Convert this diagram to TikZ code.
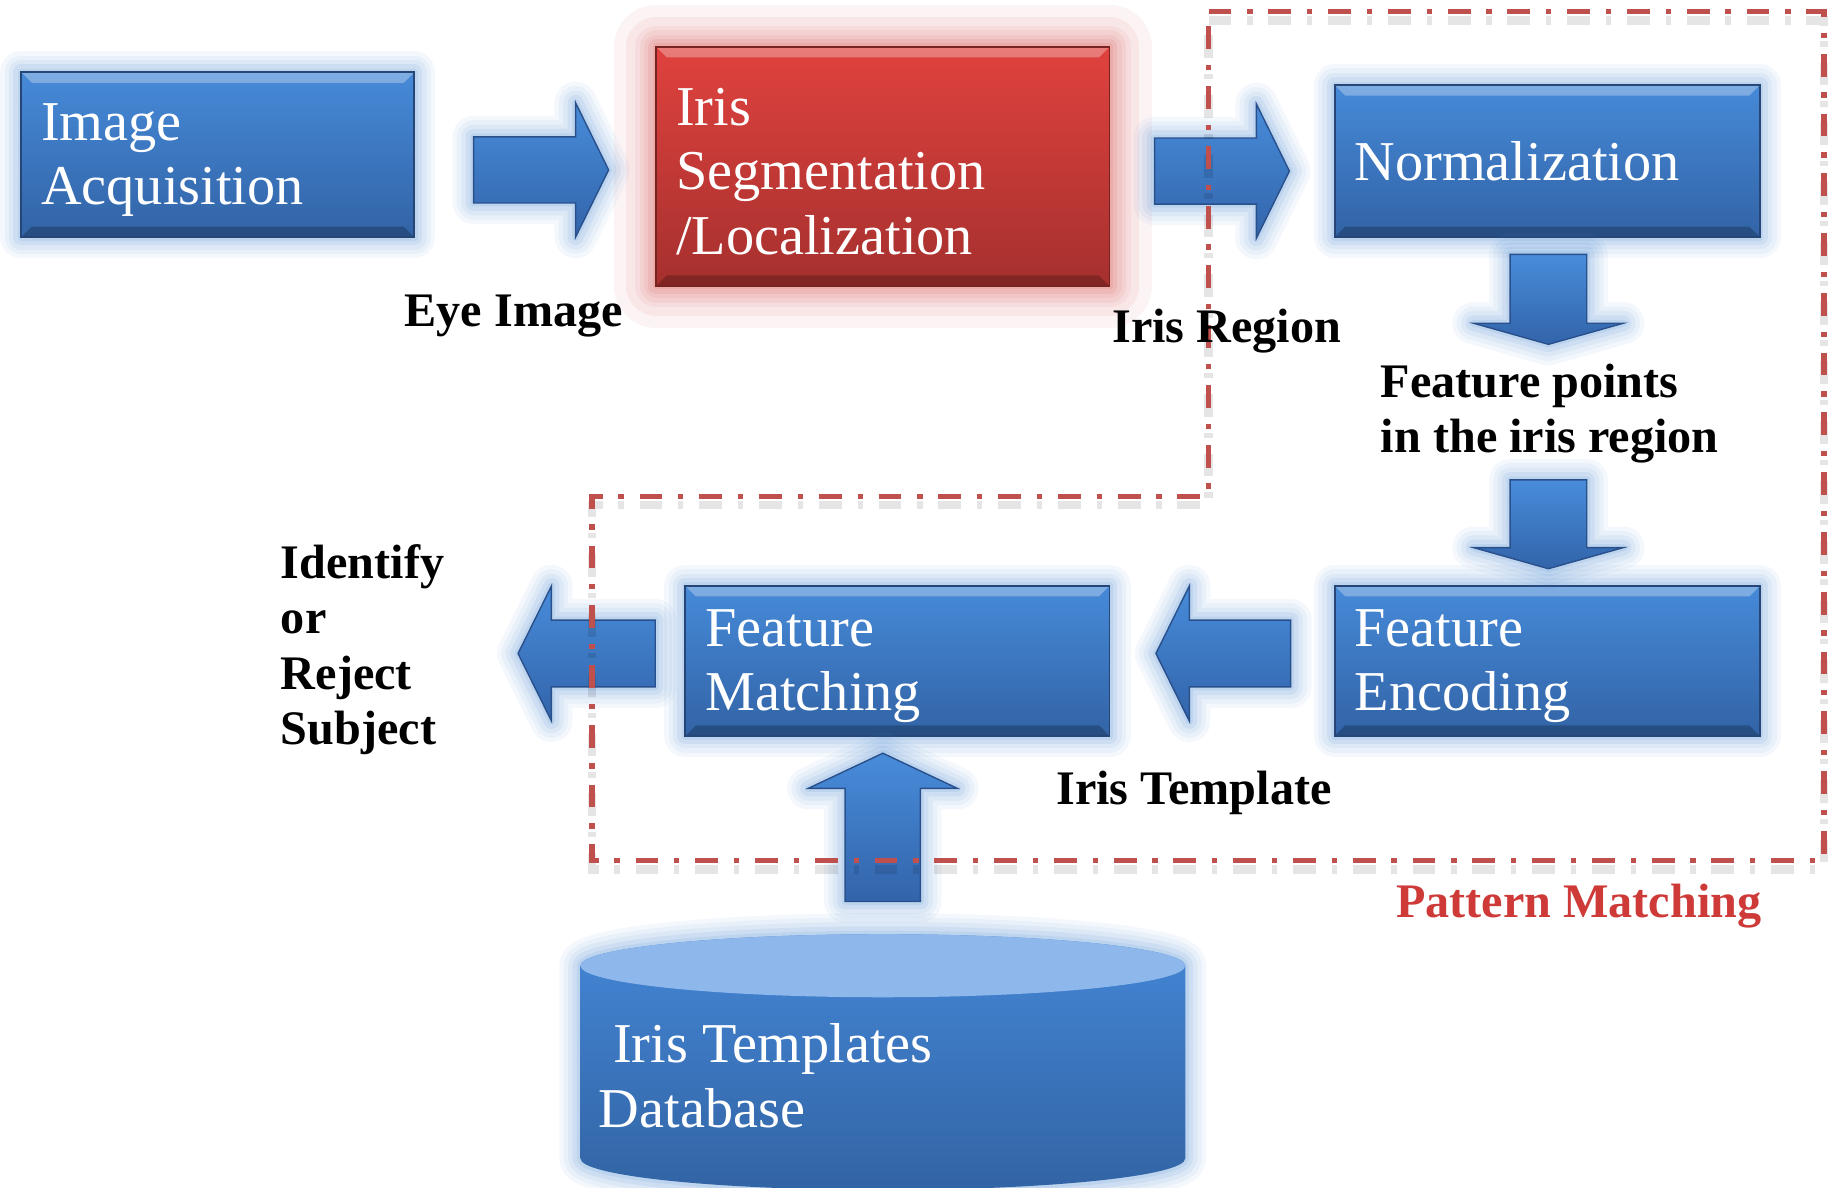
\documentclass[tikz,border=0pt]{standalone}
\usepackage{fontspec}
\setmainfont{Liberation Serif}
\usetikzlibrary{calc}

\definecolor{boxtop}{RGB}{70,138,216}
\definecolor{boxbot}{RGB}{50,99,166}
\definecolor{boxedge}{RGB}{38,70,120}
\definecolor{redtop}{RGB}{224,66,62}
\definecolor{redbot}{RGB}{165,48,46}
\definecolor{rededge}{RGB}{120,35,33}
\definecolor{glowblue}{RGB}{79,140,214}
\definecolor{glowred}{RGB}{214,72,70}
\definecolor{arrowtop}{RGB}{72,140,218}
\definecolor{arrowbot}{RGB}{50,100,170}
\definecolor{arrowedge}{RGB}{42,80,140}
\definecolor{dbtop}{RGB}{68,134,214}
\definecolor{dbbot}{RGB}{50,100,164}
\definecolor{dbcap}{RGB}{142,184,235}
\definecolor{zonered}{RGB}{192,80,77}
\definecolor{pmred}{RGB}{206,58,56}

\tikzset{
  glow/.style={preaction={draw=#1, line width=12pt, opacity=.06, line join=round},
               preaction={draw=#1, line width=9.5pt, opacity=.07, line join=round},
               preaction={draw=#1, line width=7pt, opacity=.08, line join=round},
               preaction={draw=#1, line width=4.5pt, opacity=.1, line join=round},
               preaction={draw=#1, line width=2pt, opacity=.12, line join=round}},
  bevel/.style={path picture={
    \fill[white, opacity=.3] (path picture bounding box.north west) -- (path picture bounding box.north east)
      -- ([shift={(-3pt,-3pt)}]path picture bounding box.north east) -- ([shift={(3pt,-3pt)}]path picture bounding box.north west) -- cycle;
    \fill[black, opacity=.22] (path picture bounding box.south west) -- (path picture bounding box.south east)
      -- ([shift={(-3pt,3pt)}]path picture bounding box.south east) -- ([shift={(3pt,3pt)}]path picture bounding box.south west) -- cycle;}},
  blockarrow/.style n args={3}{glow=glowblue, draw=arrowedge, line width=.4pt, top color=arrowtop, bottom color=arrowbot,
    to path={let \p1=(\tikztostart), \p2=(\tikztotarget), \p3=($(\p2)!#3!(\p1)$) in
      ($(\p1)!#1!90:(\p2)$) -- ($(\p3)!#1!90:(\p2)$) -- ($(\p3)!#2!90:(\p2)$) -- (\p2)
      -- ($(\p3)!#2!-90:(\p2)$) -- ($(\p3)!#1!-90:(\p2)$) -- ($(\p1)!#1!-90:(\p2)$) -- cycle}}
}
\tikzstyle{box} = [rectangle, line width=.5pt, align=flush left, text=white, inner xsep=0.2cm, inner ysep=0pt, font=\fontsize{16}{18.3}\selectfont, bevel]
\tikzstyle{pad} = [execute at begin node={\rule{0pt}{13.5pt}}]
\tikzstyle{stage} = [box, draw=boxedge, top color=boxtop, bottom color=boxbot, glow=glowblue]
\tikzstyle{keystage} = [box, draw=rededge, top color=redtop, bottom color=redbot, glow=glowred,
  preaction={draw=glowred, line width=24pt, opacity=.06, line join=round},
  preaction={draw=glowred, line width=17pt, opacity=.08, line join=round}]
\tikzstyle{dbtext} = [anchor=base, text=white, align=flush left, text width=5.675cm, inner sep=0pt, font=\fontsize{16}{18.3}\selectfont]
\tikzstyle{note} = [anchor=base west, inner sep=0pt, align=flush left, font=\bfseries\fontsize{13.7}{15.8}\selectfont]
\tikzstyle{zone} = [draw=zonered, line width=1.5pt, dash pattern=on 6.5pt off 4.5pt on 1.5pt off 4.5pt,
  preaction={draw=black, opacity=.1, line width=2.5pt, dash pattern=on 6.5pt off 4.5pt on 1.5pt off 4.5pt, transform canvas={yshift=-2.5pt}}]

\begin{document}
\begin{tikzpicture}[x=0.011677cm, y=-0.011677cm]
  \useasboundingbox (0,0) rectangle (1568,1017);
  \fill[white] (0,0) rectangle (1568,1017);

  % database
  \shade[top color=dbtop, bottom color=dbbot, glow=glowblue] (497,827) -- (497,992)
    arc[start angle=180, end angle=0, x radius=259, y radius=27] -- (1015,827)
    arc[start angle=0, end angle=-180, x radius=259, y radius=27] -- cycle;
  \fill[dbcap] (756,827) ellipse [x radius=259, y radius=27];
  \coordinate (dbtop) at (756,800);
  \node[dbtext] (db) at (756,910) {\hspace*{4pt}Iris Templates\\Database};

  % stages
  \node[stage, pad, text width=3.53cm, minimum height=1.65cm] (acq) at (186.5,132.5) {Image\\Acquisition};
  \node[keystage, pad, text width=4.13cm, minimum height=2.39cm] (seg) at (756,142.5) {Iris\\Segmentation\\/Localization};
  \node[stage, text width=3.85cm, minimum height=1.52cm] (norm) at (1325,138) {Normalization};
  \node[stage, pad, text width=3.85cm, minimum height=1.5cm] (enc) at (1325,566) {Feature\\Encoding};
  \node[stage, pad, text width=3.84cm, minimum height=1.5cm] (match) at (768.5,566) {Feature\\Matching};

  % arrows
  \draw[blockarrow={9.4pt}{19.1pt}{9.4pt}] ($(acq.east)+(50,13)$) to ($(seg.west)+(-40,3)$);
  \draw[blockarrow={9.4pt}{19.1pt}{9.4pt}] ($(seg.east)+(38,4)$) to ($(norm.west)+(-38,8.5)$);
  \draw[blockarrow={10.9pt}{21.3pt}{6pt}] ($(norm.south)+(1,14)$) to ($(norm.south)+(1,91)$);
  \draw[blockarrow={10.9pt}{21.3pt}{6pt}] ($(enc.north)+(1,-90)$) to ($(enc.north)+(1,-14)$);
  \draw[blockarrow={9.5pt}{19.2pt}{9.5pt}] ($(enc.west)+(-37,-6.4)$) to ($(match.east)+(39,-6.4)$);
  \draw[blockarrow={9.5pt}{19.2pt}{9.5pt}] ($(match.west)+(-25,-6.4)$) to ($(match.west)+(-142.5,-6.4)$);
  \draw[blockarrow={10.7pt}{21.2pt}{10pt}] ($(dbtop)+(0,-28)$) to ($(match.south)+(-12.5,14)$);

  % pattern matching region
  \draw[zone] (1035,10) -- (1562,10) -- (1562,737) -- (507,737) -- (507,425) -- (1035,425) -- cycle;

  % labels
  \node[note] (eye) at (346,280) {Eye Image};
  \node[note] (region) at (952,293) {Iris Region};
  \node[note, text width=4.2cm] (points) at (1182,340) {Feature points\\in the iris region};
  \node[note] (tmpl) at (904,689) {Iris Template};
  \node[note, text width=2cm] (result) at (240,495) {Identify\\or\\Reject\\Subject};
  \node[note, text=pmred] (pm) at (1195,786) {Pattern Matching};
\end{tikzpicture}
\end{document}
